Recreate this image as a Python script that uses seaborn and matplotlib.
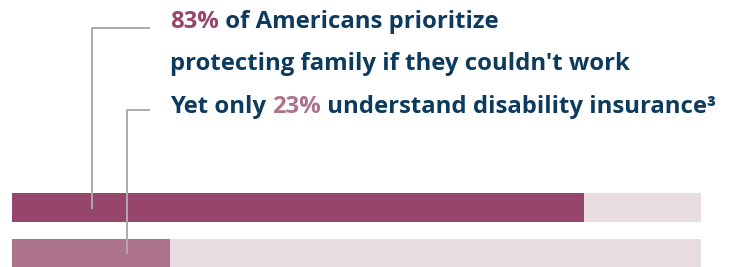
import matplotlib
matplotlib.use("Agg")
import matplotlib.pyplot as plt
from matplotlib.lines import Line2D
import seaborn as sns
import pandas as pd

# ---- data ----
categories = ["Prioritize protecting family", "Understand disability insurance"]
values = [83, 23]
track_values = [100, 100]
bar_colors = ["#96456d", "#ad738b"]
track_color = "#eadde2"
line1 = [("83%", "#96456d"), (" of Americans prioritize", "#0d3b5e")]
line2 = [("protecting family if they couldn't work", "#0d3b5e")]
line3 = [("Yet only ", "#0d3b5e"), ("23%", "#ad738b"), (" understand disability insurance³", "#0d3b5e")]

sns.set_theme(style="white")
plt.rcParams["font.family"] = ["Open Sans", "DejaVu Sans"]

W, H = 733, 267
fig = plt.figure(figsize=(W / 100, H / 100), dpi=100)
fig.patch.set_facecolor("white")

x0, x1 = 12, 701
ax = fig.add_axes([x0 / W, 0, (x1 - x0) / W, 1])
df = pd.DataFrame({"cat": categories, "val": values, "track": track_values})

sns.barplot(data=df, y="cat", x="track", color=track_color, orient="h",
            width=0.63, ax=ax, saturation=1, linewidth=0)
sns.barplot(data=df, y="cat", x="val", hue="cat", palette=bar_colors, orient="h",
            width=0.63, ax=ax, saturation=1, legend=False, linewidth=0)
ax.set_xlim(0, 100)
unit = 45.5
ax.set_ylim(1 + (H - 253) / unit, -207.5 / unit)
ax.axis("off")

def px_line(xs, ys):
    fig.add_artist(Line2D([x / W for x in xs], [1 - y / H for y in ys],
                          transform=fig.transFigure, color="#ababab", lw=1.4,
                          solid_capstyle="butt", zorder=5))

px_line([150, 92, 92], [28, 28, 209])
px_line([150, 127, 127], [110, 110, 254])

fs = 17.2

def draw_line(parts, x, y_base):
    prev = None
    for txt, col in parts:
        kw = dict(fontsize=fs, fontweight="bold", color=col, ha="left")
        if prev is None:
            t = fig.text(x / W, 1 - y_base / H, txt, va="baseline", **kw)
        else:
            t = ax.annotate(txt, xy=(1, 0), xycoords=prev, va="bottom", **kw)
        prev = t

draw_line(line1, 170, 28)
draw_line(line2, 170, 70)
draw_line(line3, 170, 113)

fig.savefig("out.png", dpi=100, facecolor="white")
